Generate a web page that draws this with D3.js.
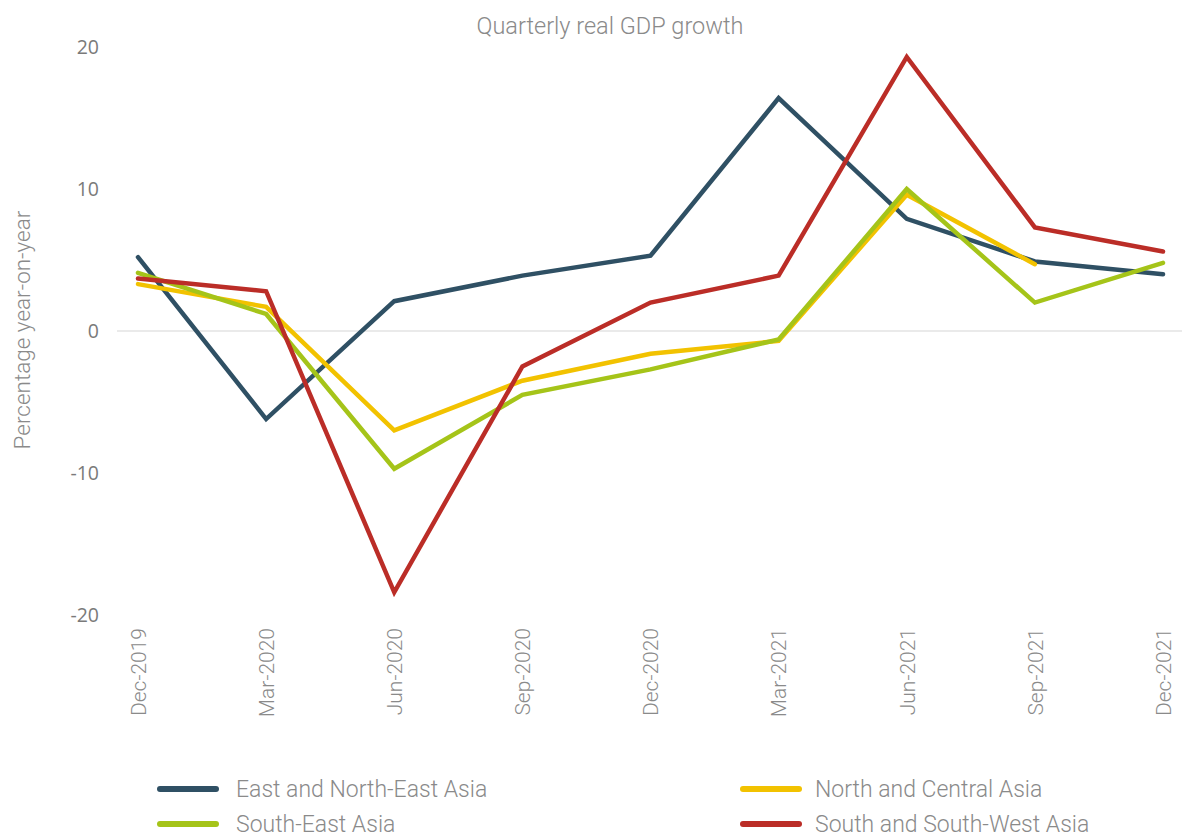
<!DOCTYPE html>
<html>
<head>
<meta charset="utf-8">
<script src="https://cdn.jsdelivr.net/npm/d3@7"></script>
<style>
  body { margin: 0; background: #fff; }
  .tick line, .domain { display: none; }
</style>
</head>
<body>
<div id="chart"></div>
<script>
// Data
var quarters = ["Dec-2019", "Mar-2020", "Jun-2020", "Sep-2020", "Dec-2020", "Mar-2021", "Jun-2021", "Sep-2021", "Dec-2021"];
var eastNorthEast = [5.2, -6.2, 2.1, 3.9, 5.3, 16.4, 7.9, 4.9, 4.0];
var northCentral = [3.3, 1.7, -7.0, -3.5, -1.6, -0.7, 9.6, 4.7, null];
var southEast = [4.1, 1.2, -9.7, -4.5, -2.7, -0.6, 10.0, 2.0, 4.8];
var southSouthWest = [3.7, 2.8, -18.4, -2.5, 2.0, 3.9, 19.3, 7.3, 5.6];
var yTicks = [-20, -10, 0, 10, 20];

var series = [
  {name: "East and North-East Asia", values: eastNorthEast, color: "#2f5064"},
  {name: "North and Central Asia", values: northCentral, color: "#f2c200"},
  {name: "South-East Asia", values: southEast, color: "#a5c419"},
  {name: "South and South-West Asia", values: southSouthWest, color: "#bb2d27"}
];

var W = 1182, H = 838;
var margin = {top: 47, right: 18, bottom: 223, left: 117},
    width = W - margin.left - margin.right,
    height = 568;   // plot height for the -20..20 range

var svg = d3.select("#chart")
  .append("svg")
    .attr("width", W)
    .attr("height", H);

var g = svg.append("g")
  .attr("transform", "translate(" + margin.left + "," + margin.top + ")");

var x = d3.scalePoint().domain(quarters).range([21, width - 1]);
var y = d3.scaleLinear().domain([-20, 20]).range([height, 0]);

// title
svg.append("text")
  .attr("x", 610)
  .attr("y", 34)
  .attr("text-anchor", "middle")
  .style("font-family", "Roboto")
  .style("font-weight", 300)
  .style("font-size", "23.5px")
  .style("fill", "#8a8a8a")
  .text("Quarterly real GDP growth");

// zero line
g.append("line")
  .attr("x1", 0).attr("x2", width + margin.right)
  .attr("y1", y(0)).attr("y2", y(0))
  .style("stroke", "#e3e3e3")
  .style("stroke-width", 1.5);

// y axis
g.append("g")
  .attr("class", "axis axis--y")
  .call(d3.axisLeft(y).tickValues(yTicks).tickSize(0).tickPadding(18)
    .tickFormat(function(d) { return String(d); }))
  .selectAll("text")
    .style("font-family", "Open Sans")
    .style("font-size", "19.5px")
    .style("fill", "#7a7a7a");

svg.append("text")
  .attr("transform", "translate(30," + 330 + ") rotate(-90)")
  .attr("text-anchor", "middle")
  .style("font-family", "Roboto")
  .style("font-weight", 300)
  .style("font-size", "22.5px")
  .style("fill", "#8a8a8a")
  .text("Percentage year-on-year");

// x axis
g.append("g")
  .attr("class", "axis axis--x")
  .attr("transform", "translate(0," + height + ")")
  .call(d3.axisBottom(x).tickSize(0))
  .selectAll("text")
    .attr("transform", "rotate(-90)")
    .attr("x", -13)
    .attr("y", 0)
    .attr("dy", ".35em")
    .style("text-anchor", "end")
    .style("font-family", "Roboto")
    .style("font-weight", 300)
    .style("font-size", "21px")
    .style("fill", "#8a8a8a");

// lines
var line = d3.line()
  .defined(function(d) { return d != null; })
  .x(function(d, i) { return x(quarters[i]); })
  .y(function(d) { return y(d); });

series.forEach(function(s) {
  g.append("path")
    .datum(s.values)
    .attr("d", line)
    .style("fill", "none")
    .style("stroke", s.color)
    .style("stroke-width", 4.5)
    .style("stroke-linejoin", "miter")
    .style("stroke-linecap", "round");
});

// legend
var legendPos = [[160, 789, 76], [743, 789, 72], [160, 824, 76], [743, 824, 72]];
series.forEach(function(s, i) {
  var p = legendPos[i];
  var lg = svg.append("g").attr("transform", "translate(" + p[0] + "," + p[1] + ")");
  lg.append("line")
    .attr("x1", 0).attr("x2", 56)
    .style("stroke", s.color)
    .style("stroke-width", 6)
    .style("stroke-linecap", "round");
  lg.append("text")
    .attr("x", p[2])
    .attr("dy", ".35em")
    .style("font-family", "Roboto")
    .style("font-weight", 300)
    .style("font-size", "23px")
    .style("fill", "#8a8a8a")
    .text(s.name);
});
</script>
</body>
</html>
